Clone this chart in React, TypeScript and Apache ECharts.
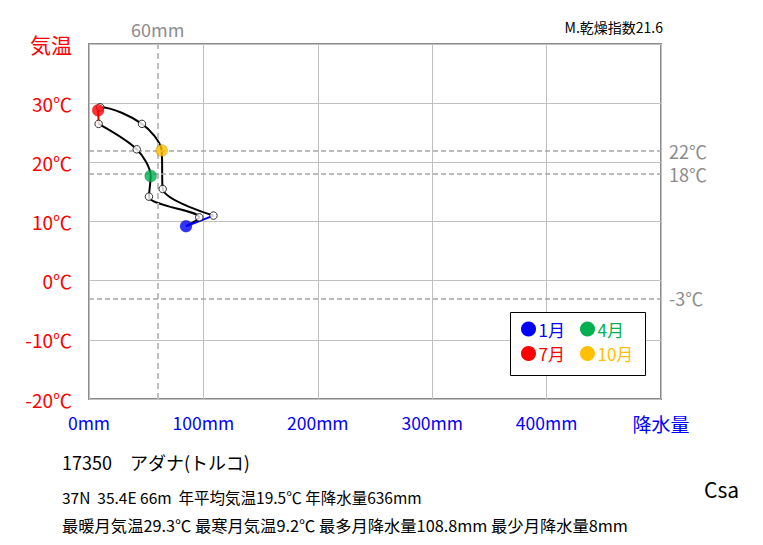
import React, { useEffect, useRef } from 'react';
import * as echarts from 'echarts';

const months = ['1月', '2月', '3月', '4月', '5月', '6月', '7月', '8月', '9月', '10月', '11月', '12月'];
const precipitation = [84.8, 96.4, 52.4, 53.9, 41.7, 8.4, 8.0, 9.8, 46.3, 63.5, 64.4, 108.8];
const temperature = [9.2, 10.7, 14.2, 17.7, 22.2, 26.5, 28.8, 29.3, 26.5, 22.0, 15.5, 11.0];
const highlightIdx = [0, 3, 6, 9];
const highlightColors = ['#0000ff', '#00b050', '#ff0000', '#ffc000'];
const refTemps = [22, 18, -3];
const refPrecip = 60;
const xMin = 0, xMax = 500, xStep = 100;
const yMin = -20, yMax = 40, yStep = 10;

const stationTitle = '17350　アダナ(トルコ)';
const infoLine1 = '37N  35.4E 66m  年平均気温19.5℃ 年降水量636mm';
const infoLine2 = '最暖月気温29.3℃ 最寒月気温9.2℃ 最多月降水量108.8mm 最少月降水量8mm';
const dryIndex = 'M.乾燥指数21.6';
const climateCode = 'Csa';

const FONT = '"Noto Sans CJK JP", "Noto Sans", sans-serif';

export default function App() {
  const ref = useRef<HTMLDivElement>(null);
  useEffect(() => {
    const chart = echarts.init(ref.current!, null, { renderer: 'svg' });
    const pts = precipitation.map((p, i) => [p, temperature[i]]);
    const firstHalf = pts.slice(0, 6);
    const secondHalf = pts.slice(6, 12);
    const decJan = [pts[11], pts[0]];
    const junJul = [pts[5], pts[6]];
    const whitePts = pts.filter((_, i) => highlightIdx.indexOf(i) < 0);

    const legendGraphics: any[] = [
      { type: 'rect', shape: { x: 510.5, y: 312.5, width: 135, height: 63 }, style: { fill: '#fff', stroke: '#000', lineWidth: 1 }, z: 10 },
    ];
    highlightIdx.forEach((mi, k) => {
      const col = k % 2;
      const row = Math.floor(k / 2);
      const cx = 528.5 + col * 59;
      const cy = 329 + row * 24.5;
      legendGraphics.push({ type: 'circle', shape: { cx, cy, r: 7.5 }, style: { fill: highlightColors[k] }, z: 11 });
      legendGraphics.push({
        type: 'text', x: cx + 10, y: cy, z: 11,
        style: { text: months[mi], fill: highlightColors[k], font: `17px ${FONT}`, textVerticalAlign: 'middle', verticalAlign: 'middle' },
      });
    });

    const option: any = {
      animation: false,
      backgroundColor: '#ffffff',
      textStyle: { fontFamily: FONT },
      grid: {
        left: 89, top: 44, right: 102, bottom: 146,
        show: true, borderColor: '#8c8c8c', borderWidth: 2, backgroundColor: '#fff',
      },
      xAxis: {
        type: 'value', min: xMin, max: xMax, interval: xStep,
        axisLine: { show: false }, axisTick: { show: false },
        splitLine: { show: true, lineStyle: { color: '#c0c0c0', width: 1 } },
        axisLabel: {
          color: '#0000ff', fontSize: 17.5, margin: 15, fontFamily: FONT,
          showMaxLabel: true,
          formatter: (v: number) => (v === xMax ? '{b|降水量}' : `${v}mm`),
          rich: { b: { fontSize: 19, color: '#0000ff', fontFamily: FONT } },
        },
      },
      yAxis: {
        type: 'value', min: yMin, max: yMax, interval: yStep,
        axisLine: { show: false }, axisTick: { show: false },
        splitLine: { show: true, lineStyle: { color: '#c0c0c0', width: 1 } },
        axisLabel: {
          color: '#ff0000', fontSize: 19, margin: 17, fontFamily: FONT,
          showMaxLabel: true,
          formatter: (v: number) => (v === yMax ? '{b|気温}' : `${v}℃`),
          rich: { b: { fontSize: 21, color: '#ff0000', fontFamily: FONT } },
        },
      },
      series: [
        {
          type: 'line', data: firstHalf, smooth: 0.3, symbol: 'none', z: 3,
          lineStyle: { color: '#000', width: 2 },
          markLine: {
            silent: true, symbol: ['none', 'none'],
            data: [
              {
                xAxis: refPrecip,
                lineStyle: { color: '#bfbfbf', type: [6, 4], width: 2 },
                label: { show: true, position: 'end', formatter: `${refPrecip}mm`, color: '#8c8c8c', fontSize: 18, distance: 6, fontFamily: FONT },
              },
              ...refTemps.map((t) => ({
                yAxis: t,
                lineStyle: { color: '#a6a6a6', type: [5, 3], width: 1.5 },
                label: { show: true, position: 'end', formatter: `${t}℃`, color: '#8c8c8c', fontSize: 18, lineHeight: 19, distance: 8, fontFamily: FONT, padding: [2, 0, 0, 0] },
              })),
            ],
          },
        },
        { type: 'line', data: secondHalf, smooth: 0.3, symbol: 'none', z: 3, lineStyle: { color: '#000', width: 2 } },
        { type: 'line', data: decJan, symbol: 'none', z: 4, lineStyle: { color: highlightColors[0], width: 2 } },
        { type: 'line', data: junJul, symbol: 'none', z: 4, lineStyle: { color: highlightColors[2], width: 2 } },
        {
          type: 'scatter', data: whitePts, symbol: 'circle', symbolSize: 7.5, z: 5,
          itemStyle: { color: '#fff', borderColor: '#000', borderWidth: 1 },
        },
        {
          type: 'scatter', symbol: 'circle', symbolSize: 12, z: 6,
          data: highlightIdx.map((mi, k) => ({ value: pts[mi], itemStyle: { color: highlightColors[k] } })),
          itemStyle: { borderColor: 'rgba(0,0,0,0.35)', borderWidth: 0.5 },
        },
      ],
      graphic: [
        ...legendGraphics,
        { type: 'text', x: 663, y: 27, style: { text: dryIndex, fill: '#000', font: `14px ${FONT}`, textAlign: 'right', align: 'right', textVerticalAlign: 'middle', verticalAlign: 'middle' } },
        { type: 'text', x: 62, y: 462, style: { text: stationTitle, fill: '#000', font: `18px ${FONT}`, textVerticalAlign: 'middle', verticalAlign: 'middle' } },
        { type: 'text', x: 62, y: 497, style: { text: infoLine1, fill: '#000', font: `15.5px ${FONT}`, textVerticalAlign: 'middle', verticalAlign: 'middle' } },
        { type: 'text', x: 62, y: 525, style: { text: infoLine2, fill: '#000', font: `16.3px ${FONT}`, textVerticalAlign: 'middle', verticalAlign: 'middle' } },
        { type: 'text', x: 704, y: 489, style: { text: climateCode, fill: '#000', font: `21px ${FONT}`, textVerticalAlign: 'middle', verticalAlign: 'middle' } },
      ],
    };
    chart.setOption(option);
    return () => chart.dispose();
  }, []);
  return <div ref={ref} style={{ position: 'fixed', left: 0, top: 0, width: 763, height: 545, background: '#fff' }} />;
}
